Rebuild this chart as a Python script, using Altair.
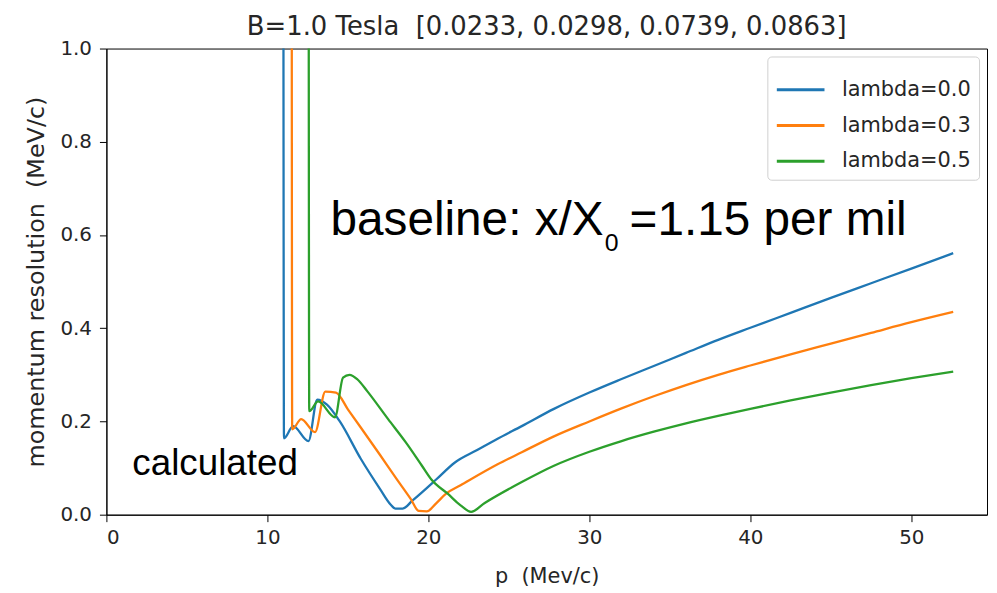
import altair as alt
import pandas as pd

# ---- data ----
labels = ["lambda=0.0", "lambda=0.3", "lambda=0.5"]
colors = ["#1f77b4", "#ff7f0e", "#2ca02c"]

p_l00 = [10.98, 11.03, 11.6, 12.55, 13.1, 13.7, 14.5, 15.8, 17.0, 17.65, 17.95, 18.4,
         19.0, 19.6, 20.5, 21.65, 23.0, 24.3, 25.8, 27.8, 30.0, 32.0, 34.0, 36.0, 38.0,
         40.0, 42.5, 45.0, 47.5, 50.0, 52.6]
r_l00 = [2.0, 0.164, 0.19, 0.158, 0.247, 0.236, 0.2, 0.12, 0.055, 0.022, 0.013, 0.013,
         0.03, 0.048, 0.076, 0.112, 0.138, 0.163, 0.19, 0.227, 0.262, 0.291, 0.319, 0.347, 0.375,
         0.401, 0.433, 0.465, 0.4965, 0.528, 0.561]

p_l03 = [11.5, 11.54, 12.1, 12.96, 13.6, 14.26, 15.0, 15.8, 17.0, 18.0, 18.9, 19.4,
         19.9, 20.5, 21.1, 22.0, 24.3, 25.8, 27.8, 30.0, 32.0, 34.0, 36.0, 38.0, 40.0,
         42.5, 45.0, 47.5, 50.0, 52.6]
r_l03 = [2.0, 0.183, 0.205, 0.177, 0.264, 0.262, 0.226, 0.187, 0.128, 0.078, 0.034, 0.008,
         0.007, 0.025, 0.045, 0.063, 0.108, 0.134, 0.168, 0.2, 0.228, 0.254, 0.278, 0.3, 0.32,
         0.344, 0.367, 0.39, 0.413, 0.435]

p_l05 = [12.55, 12.6, 13.15, 14.2, 14.7, 15.1, 15.6, 16.2, 17.5, 18.6, 19.6, 20.2,
         21.2, 22.0, 22.65, 23.5, 25.8, 27.8, 30.0, 32.0, 34.0, 36.0, 38.0, 40.0, 42.5,
         45.0, 47.5, 50.0, 52.6]
r_l05 = [2.0, 0.222, 0.243, 0.209, 0.294, 0.30, 0.29, 0.265, 0.205, 0.155, 0.105, 0.075,
         0.045, 0.02, 0.006, 0.025, 0.07, 0.105, 0.135, 0.158, 0.178, 0.196, 0.212, 0.227, 0.245,
         0.262, 0.278, 0.293, 0.307]

title_text = "B=1.0 Tesla\u00a0 [0.0233, 0.0298, 0.0739, 0.0863]"
x_title = "p\u00a0 (Mev/c)"
y_title = "momentum resolution\u00a0 (MeV/c)"
x_ticks = [0, 10, 20, 30, 40, 50]
y_ticks = [0.0, 0.2, 0.4, 0.6, 0.8, 1.0]

note_main = ["baseline: x/X", "0", "=1.15 per mil"]
note_main_x = [13.92, 30.95, 32.5]
note_main_y = [0.60, 0.566, 0.60]
note_main_size = [48, 25, 48]
note_calc = "calculated"
note_calc_x = 1.61
note_calc_y = 0.085

# ---- build table ----
rows = []
for lab, ps, rs in zip(labels, [p_l00, p_l03, p_l05], [r_l00, r_l03, r_l05]):
    for i, (p, r) in enumerate(zip(ps, rs)):
        rows.append({"p": p, "res": r, "series": lab, "idx": i})
df = pd.DataFrame(rows)

xscale = alt.Scale(domain=[0, 54.7], nice=False, zero=False)
yscale = alt.Scale(domain=[0, 1.0], nice=False)

lines = alt.Chart(df).mark_line(strokeWidth=2.3, clip=True, interpolate="monotone").encode(
    x=alt.X("p:Q", scale=xscale,
            axis=alt.Axis(values=x_ticks, title=x_title, format="d",
                          titleY=62, titleBaseline="middle")),
    y=alt.Y("res:Q", scale=yscale,
            axis=alt.Axis(values=y_ticks, title=y_title, format=".1f",
                          titleX=-70, titleBaseline="middle", titleAngle=-90)),
    color=alt.Color("series:N",
                    scale=alt.Scale(domain=labels, range=colors),
                    legend=alt.Legend(title=None, orient="top-right", offset=8,
                                      symbolType="stroke", symbolSize=2300,
                                      symbolStrokeWidth=3, labelFontSize=21,
                                      labelFont="DejaVu Sans", labelColor="#262626",
                                      fillColor="white", strokeColor="#d0d0d0",
                                      cornerRadius=4, padding=8, labelOffset=16,
                                      rowPadding=-10)),
    order="idx:Q",
)

ann_df = pd.DataFrame({"t": note_main, "x": note_main_x, "y": note_main_y,
                       "s": note_main_size})
big = alt.Chart(ann_df.iloc[[0, 2]]).mark_text(
    font="Liberation Sans", fontSize=48, align="left", baseline="alphabetic",
    color="black").encode(x=alt.X("x:Q", scale=xscale), y=alt.Y("y:Q", scale=yscale), text="t:N")
sub = alt.Chart(ann_df.iloc[[1]]).mark_text(
    font="Liberation Sans", fontSize=25, align="left", baseline="alphabetic",
    color="black").encode(x=alt.X("x:Q", scale=xscale), y=alt.Y("y:Q", scale=yscale), text="t:N")
calc = alt.Chart(pd.DataFrame({"t": [note_calc], "x": [note_calc_x], "y": [note_calc_y]})).mark_text(
    font="Liberation Sans", fontSize=37, align="left", baseline="alphabetic",
    color="black").encode(x=alt.X("x:Q", scale=xscale), y=alt.Y("y:Q", scale=yscale), text="t:N")

chart = alt.layer(lines, big, sub, calc).properties(
    width=886, height=469,
    title=alt.TitleParams(title_text, font="DejaVu Sans", fontSize=26, fontWeight="normal",
                          color="#262626", anchor="middle", offset=-1),
    autosize=alt.AutoSizeParams(type="none"),
    padding={"left": 99, "top": 39, "right": 2, "bottom": 76},
).configure_view(stroke="black", strokeWidth=1).configure_axis(
    grid=False, labelFont="DejaVu Sans", labelFontSize=20, labelColor="#262626",
    titleFont="DejaVu Sans", titleFontSize=21, titleFontWeight="normal", titleColor="#262626",
    domainColor="black", tickColor="black", tickSize=7, labelPadding=6,
).configure_axisY(titleFontSize=24, labelPadding=8)

chart.save("out.html", embed_options={"renderer": "svg", "actions": False})
